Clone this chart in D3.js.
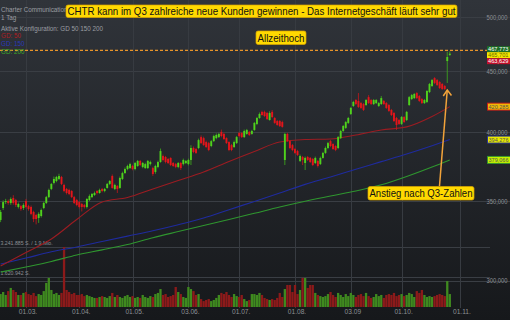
<!DOCTYPE html>
<html>
<head>
<meta charset="utf-8">
<script src="https://cdn.jsdelivr.net/npm/d3@7"></script>
<style>
    html, body { margin: 0; padding: 0; background: #1d2024; }
    svg { display: block; font-family: "Liberation Sans", Arial, sans-serif; }
</style>
</head>
<body>
<div id="chart"></div>
<script>
// CHTR daily candles, 14.02. - 28.10. (one entry per trading day)
var open = [
    337.4, 345.3, 349.3, 350.0, 348.7, 352.1, 350.7, 346.0, 346.6, 345.3,
    350.0, 346.6, 346.0, 342.7, 340.7, 338.7, 340.0, 345.3, 348.7, 352.7,
    358.3, 362.5, 363.9, 365.3, 366.7, 361.1, 358.3, 357.6, 356.9, 352.7,
    350.7, 349.3, 348.0, 347.3, 346.0, 350.7, 352.7, 354.1, 356.9, 355.5,
    358.3, 356.9, 359.0, 361.8, 367.4, 358.3, 360.4, 359.0, 365.3, 369.5,
    372.4, 373.1, 374.6, 372.4, 374.6, 378.3, 373.9, 373.1, 373.1, 376.0,
    373.1, 370.3, 373.9, 377.5, 381.9, 381.2, 379.7, 380.5, 376.8, 376.0,
    373.9, 376.8, 376.0, 376.8, 376.0, 379.0, 387.9, 387.1, 387.9, 396.2,
    395.4, 392.4, 391.6, 389.4, 393.1, 395.4, 396.2, 400.2, 398.6, 395.4,
    392.4, 390.1, 388.6, 391.6, 399.3, 399.3, 396.2, 398.6, 400.2, 398.6,
    401.7, 406.4, 411.1, 416.0, 416.0, 415.1, 409.5, 416.0, 411.1, 408.7,
    408.7, 407.9, 379.0, 398.6, 393.1, 390.1, 387.1, 385.6, 378.3, 381.2,
    376.8, 381.2, 380.5, 379.7, 376.8, 378.3, 376.0, 380.5, 384.2, 387.9,
    393.1, 390.9, 389.4, 387.9, 395.4, 400.9, 403.3, 407.2, 414.3, 420.8,
    425.7, 424.9, 423.2, 422.4, 421.6, 428.1, 425.7, 422.4, 423.2, 420.8,
    422.4, 424.9, 423.2, 421.6, 417.6, 415.1, 411.1, 409.5, 406.4, 411.9,
    409.5, 421.6, 426.5, 427.3, 431.5, 429.0, 426.5, 423.2, 424.1, 432.3,
    437.4, 444.2, 442.5, 440.8, 439.1, 437.4, 459.1, 464.5
];
var high = [
    344, 350.5, 351.5, 351, 352.5, 354, 351.5, 349, 347.5, 348.5,
    351.5, 347.5, 347, 343.5, 341.5, 342.5, 345, 349.5, 353.5, 358.5,
    362.5, 367, 367.5, 369, 367.5, 362, 359, 358.5, 357.5, 353.5,
    351.5, 350, 348.8, 348, 352, 354.5, 355.5, 356.5, 357.5, 358.5,
    359, 359, 362.5, 364.5, 368.5, 362, 361, 367, 370.5, 373.5,
    375.5, 377, 375.5, 377.5, 379, 379, 377.5, 377, 379, 378.5,
    374, 375.5, 378.5, 387.5, 383, 382, 380.5, 381, 377.5, 376.8,
    377.5, 377.5, 380, 379, 380, 390, 389, 388, 395, 397.5,
    396.5, 393.5, 392.5, 394, 398, 399, 399.5, 402, 399.5, 396,
    393, 391, 393.5, 397, 400.3, 400, 402, 402.5, 401, 401.8,
    408, 412, 415.5, 417, 417, 416, 416.5, 417.5, 412, 409.5,
    409.5, 409, 399.5, 399.5, 394, 391, 388, 386.5, 383, 382,
    381.5, 382, 381.2, 380.5, 381.5, 379, 381.5, 385, 389, 392.5,
    394, 391.5, 390, 397, 401.8, 405.6, 408.7, 412, 420, 425,
    426.5, 431.5, 424.1, 423.2, 426.5, 429.8, 426.5, 426.5, 426.5, 424.1,
    429, 425.7, 424.1, 422.4, 418.4, 416, 412, 410.3, 412.7, 412.7,
    416.8, 429, 430.7, 431.5, 432.3, 429.8, 427.3, 426.5, 434, 440,
    443.4, 445, 443.4, 441.6, 440, 438.3, 467.5, 467.773
];
var low = [
    336, 344, 348, 347.5, 347.5, 347.5, 346, 345, 343.5, 344,
    345, 343.5, 340.5, 336, 334.5, 335.5, 339, 344.5, 348, 352,
    357.5, 361.5, 363, 364.5, 361, 356, 354.5, 354, 352, 348,
    346.5, 345, 343, 345, 345, 350, 352, 353.5, 354.5, 355,
    356, 356, 358.5, 361, 358.5, 357.5, 355.5, 358.5, 364.5, 369,
    371.5, 372.5, 371.5, 371.5, 374, 374.5, 373, 372.5, 372.5, 375,
    367.5, 369, 373, 377, 378, 376.5, 376, 374.5, 374, 373,
    373, 371.7, 375, 376, 375, 375.3, 384, 383.5, 387, 391,
    389.5, 388, 385.5, 388.5, 392.5, 394.5, 395.5, 396, 394, 391,
    385.5, 385.5, 388, 391, 396, 395.5, 395.5, 398, 397, 398,
    401, 405.5, 410.5, 413, 412, 409.5, 409, 411, 406.5, 405,
    404, 403.5, 375.3, 392.5, 387, 385.5, 383.5, 382, 377.5, 375.3,
    371.7, 378.3, 376.8, 374.5, 376, 373.5, 375.3, 380, 383.5, 387,
    388.5, 386.5, 385.5, 387, 394.7, 400.2, 402.5, 406.4, 413.5, 420,
    421.6, 419.2, 418.4, 416.8, 420.8, 422.4, 421.6, 421.6, 422.4, 420,
    421.6, 421.6, 418.4, 416, 412.7, 407.9, 401.7, 405.6, 405.6, 407.2,
    408.7, 420.8, 425.7, 426.5, 426.5, 424.1, 422.4, 422.4, 423.2, 431.5,
    436.6, 439.1, 437.4, 434.9, 434, 434, 440, 463.629
];
var close = [
    342.7, 349.3, 350.0, 348.7, 351.4, 348.7, 347.3, 348.0, 344.6, 347.3,
    346.0, 344.6, 341.4, 338.0, 338.0, 341.4, 344.0, 348.7, 352.7, 357.6,
    361.8, 365.3, 366.7, 367.4, 361.8, 356.9, 355.5, 354.8, 352.7, 348.7,
    347.3, 346.0, 346.0, 346.0, 351.4, 353.4, 354.8, 355.5, 355.5, 357.6,
    356.9, 358.3, 361.8, 363.9, 359.0, 361.1, 358.3, 366.0, 369.5, 372.4,
    374.6, 376.0, 372.4, 376.8, 378.3, 375.3, 376.8, 376.0, 378.3, 377.5,
    368.8, 374.6, 377.5, 385.6, 379.0, 377.5, 376.8, 375.3, 374.6, 373.9,
    376.8, 373.1, 379.0, 378.3, 379.0, 387.9, 384.9, 384.2, 393.9, 391.6,
    390.1, 388.6, 386.4, 393.1, 397.0, 397.8, 398.6, 397.0, 394.7, 391.6,
    386.4, 386.4, 392.4, 396.2, 397.0, 396.2, 400.9, 401.7, 397.8, 400.9,
    407.2, 411.1, 414.3, 413.5, 412.7, 410.3, 415.1, 411.9, 407.2, 405.6,
    404.8, 404.1, 398.6, 393.1, 387.9, 386.4, 384.2, 382.7, 381.9, 379.0,
    380.5, 379.0, 377.5, 375.3, 380.5, 374.6, 380.5, 384.2, 387.9, 391.6,
    389.4, 387.1, 386.4, 396.2, 400.9, 404.8, 407.9, 411.1, 419.2, 424.1,
    422.4, 420.0, 419.2, 417.6, 425.7, 423.2, 422.4, 425.7, 425.7, 423.2,
    427.3, 422.4, 419.2, 416.8, 413.5, 408.7, 405.6, 406.4, 411.9, 407.9,
    416.0, 428.1, 429.8, 430.7, 427.3, 424.9, 423.2, 425.7, 433.2, 439.1,
    442.5, 440.0, 438.3, 435.7, 434.9, 434.9, 462.7, 465.701
];
// volume in thousand shares
var volume = [
    700, 810, 650, 860, 1030, 920, 810, 650, 650, 760,
    810, 700, 650, 760, 590, 700, 650, 860, 1300, 1570,
    920, 700, 760, 650, 760, 3240, 920, 810, 700, 760,
    650, 650, 700, 590, 650, 590, 540, 490, 490, 540,
    590, 540, 490, 590, 760, 540, 650, 540, 490, 590,
    650, 540, 590, 490, 540, 490, 650, 540, 490, 590,
    540, 700, 760, 970, 650, 700, 540, 590, 650, 1080,
    810, 700, 540, 490, 1080, 970, 860, 650, 700, 430,
    320, 380, 430, 320, 380, 490, 650, 760, 700, 810,
    650, 540, 700, 590, 540, 650, 430, 320, 380, 700,
    700, 650, 760, 650, 490, 430, 380, 430, 380, 490,
    760, 540, 970, 1190, 1190, 810, 1190, 700, 920, 1570,
    1570, 1030, 1190, 1190, 760, 650, 590, 540, 590, 700,
    810, 650, 540, 760, 650, 540, 700, 590, 760, 650,
    540, 650, 700, 590, 760, 590, 490, 540, 700, 590,
    650, 490, 650, 700, 650, 760, 590, 650, 700, 590,
    650, 760, 700, 540, 860, 760, 920, 650, 540, 590,
    540, 590, 650, 700, 650, 590, 1400, 700
];

// moving averages, read every 10 trading days
var maIdx = [0, 10, 20, 30, 40, 50, 60, 70, 80, 90, 100, 110, 120, 130, 140, 150, 160, 170, 177];
var ma50 = [308.6, 316.8, 325.2, 337.7, 349.4, 352.4, 358.3, 364.2, 370.3, 377.9, 385.3, 392.4, 394.3, 394.7, 397.8, 401.7, 404.1, 412.3, 420.285];
var ma150 = [309.8, 313.4, 317.2, 320.2, 323.6, 327.0, 330.4, 334.3, 338.7, 344.2, 349.7, 355.5, 361.5, 366.7, 372.3, 377.8, 383.4, 389.6, 394.276];
var ma200 = [305.0, 308.0, 311.3, 315.3, 318.4, 321.7, 326.0, 329.9, 333.8, 337.7, 341.8, 346.0, 349.9, 353.5, 356.9, 361.2, 367.1, 373.9, 379.066];

var xTickIdx = [10, 31, 52, 74, 94, 116, 138, 158, 181];
var xTickLabels = ["01.03.", "01.04.", "01.05.", "03.06.", "01.07.", "01.08.", "03.09", "01.10.", "01.11."];
var priceTicks = [300, 350, 400, 450, 500];
var volTicks = [1620.942, 3241.885];
var volLabels = ["1.620.942 S.", "3.241.885 S. / 1,9 Mio."];

var allTimeHigh = 467.773;
var lastQuote = [467.773, 465.701, 463.629];

var width = 510, height = 320;
var de = d3.formatLocale({decimal: ",", thousands: ".", grouping: [3], currency: ["", "€"]});
var fmt = de.format(".3f");

var svg = d3.select("#chart").append("svg")
    .attr("width", width)
    .attr("height", height);

var grad = svg.append("defs").append("linearGradient")
    .attr("id", "bg").attr("x1", 0).attr("y1", 0).attr("x2", 0).attr("y2", 1);
grad.append("stop").attr("offset", "0%").attr("stop-color", "#30343a");
grad.append("stop").attr("offset", "100%").attr("stop-color", "#16181b");
svg.append("rect").attr("width", width).attr("height", height).attr("fill", "url(#bg)");

var x = d3.scaleLinear().domain([0, 177]).range([0.6, 449.8]);
var y = d3.scaleLog().domain([300, 500]).range([280.6, 17]);
var yVol = d3.scaleLinear().domain([0, 3241.885]).range([307, 247]);

var idx = d3.range(close.length);
var up = function (i) { return close[i] >= open[i]; };

// grid
svg.append("g").selectAll("line").data(priceTicks).enter().append("line")
    .attr("x1", 0).attr("x2", width)
    .attr("y1", function (d) { return Math.round(y(d)) + 0.5; })
    .attr("y2", function (d) { return Math.round(y(d)) + 0.5; })
    .attr("stroke", "#3a3e44");
svg.append("g").selectAll("line").data(volTicks).enter().append("line")
    .attr("x1", 0).attr("x2", 490)
    .attr("y1", function (d) { return Math.round(yVol(d)) + 0.5; })
    .attr("y2", function (d) { return Math.round(yVol(d)) + 0.5; })
    .attr("stroke", "#3a3e44");
svg.append("g").selectAll("line").data(xTickIdx).enter().append("line")
    .attr("x1", function (d) { return Math.round(x(d)) + 0.5; })
    .attr("x2", function (d) { return Math.round(x(d)) + 0.5; })
    .attr("y1", 0).attr("y2", 308)
    .attr("stroke", "#373b41");

// volume
svg.append("g").selectAll("rect").data(idx).enter().append("rect")
    .attr("x", function (i) { return x(i) - 1.15; })
    .attr("width", 2.3)
    .attr("y", function (i) { return yVol(volume[i]); })
    .attr("height", function (i) { return yVol(0) - yVol(volume[i]); })
    .attr("fill", function (i) { return up(i) ? "#3f8a1f" : "#8c1a1a"; });

svg.append("g").attr("font-size", "5.2px").attr("fill", "#8d9095")
    .selectAll("text").data(volTicks).enter().append("text")
    .attr("x", 0.5)
    .attr("y", function (d) { return yVol(d) - 2; })
    .text(function (d, i) { return volLabels[i]; });

// moving averages
var maLine = function (vals) {
    return d3.line()
        .x(function (d, i) { return x(maIdx[i]); })
        .y(function (d) { return y(d); })
        .curve(d3.curveMonotoneX)(vals);
};
[[ma200, "#2f962f"], [ma150, "#1f2b9e"], [ma50, "#9b1c22"]].forEach(function (m) {
    svg.append("path").attr("d", maLine(m[0]))
        .attr("fill", "none").attr("stroke", m[1]).attr("stroke-width", 1.1);
});

// candles
var candles = svg.append("g").selectAll("g").data(idx).enter().append("g");
candles.append("line")
    .attr("x1", function (i) { return x(i); })
    .attr("x2", function (i) { return x(i); })
    .attr("y1", function (i) { return y(high[i]); })
    .attr("y2", function (i) { return y(low[i]); })
    .attr("stroke", function (i) { return up(i) ? "#3fae1c" : "#c4161b"; })
    .attr("stroke-width", 0.8);
candles.append("rect")
    .attr("x", function (i) { return x(i) - 0.95; })
    .attr("width", 1.9)
    .attr("y", function (i) { return y(Math.max(open[i], close[i])); })
    .attr("height", function (i) { return Math.max(1, Math.abs(y(open[i]) - y(close[i]))); })
    .attr("fill", function (i) { return up(i) ? "#4fd11d" : "#e3151b"; });

// all time high
svg.append("line")
    .attr("x1", 0).attr("x2", 487)
    .attr("y1", y(allTimeHigh) - 1).attr("y2", y(allTimeHigh) - 1)
    .attr("stroke", "#e8952a").attr("stroke-width", 1.2)
    .attr("stroke-dasharray", "3,2");

// axes
var yAxis = svg.append("g").attr("transform", "translate(486.5,0)")
    .call(d3.axisRight(y).tickValues(priceTicks).tickSize(0).tickPadding(0).tickFormat(fmt));
yAxis.select(".domain").remove();
yAxis.selectAll("text").attr("fill", "#8d9095").attr("font-size", "6.6px")
    .attr("font-family", "Liberation Sans, Arial, sans-serif")
    .attr("textLength", 21).attr("lengthAdjust", "spacingAndGlyphs");

var xAxis = svg.append("g").attr("transform", "translate(1.5,308)")
    .call(d3.axisBottom(x).tickValues(xTickIdx).tickSize(0).tickPadding(1.5)
        .tickFormat(function (d, i) { return xTickLabels[i]; }));
xAxis.select(".domain").remove();
xAxis.selectAll("text").attr("fill", "#8d9095").attr("font-size", "6.6px")
    .attr("font-family", "Liberation Sans, Arial, sans-serif");

// last quote boxes (high / last / low)
var quoteStyle = [["#1c6e25", "#ffffff"], ["#f4e800", "#6b6b00"], ["#c3102a", "#ffffff"]];
var quoteY = [y(lastQuote[1]) - 7.5, y(lastQuote[1]) - 1.5, y(lastQuote[1]) + 4.5];
lastQuote.forEach(function (v, i) {
    svg.append("rect").attr("x", 487).attr("y", quoteY[i]).attr("width", 24).attr("height", 6)
        .attr("fill", quoteStyle[i][0]);
    svg.append("text").attr("x", 488).attr("y", quoteY[i] + 5.2)
        .attr("font-size", "6.2px").attr("fill", quoteStyle[i][1])
        .attr("textLength", 20.5).attr("lengthAdjust", "spacingAndGlyphs").text(fmt(v));
});

// current moving average values
var maLast = [[ma50, "#f2b705", "#c8151b"], [ma150, "#eaea00", "#22309c"], [ma200, "#c6f000", "#2f962f"]];
maLast.forEach(function (m) {
    var v = m[0][m[0].length - 1];
    svg.append("rect").attr("x", 487.5).attr("y", y(v) - 3.5).attr("width", 24).attr("height", 7)
        .attr("fill", m[1]).attr("stroke", m[2]).attr("stroke-width", 0.9);
    svg.append("text").attr("x", 488.5).attr("y", y(v) + 2.3)
        .attr("font-size", "6.2px").attr("fill", "#555")
        .attr("textLength", 20).attr("lengthAdjust", "spacingAndGlyphs").text(fmt(v));
});

// header info
var info = svg.append("g").attr("font-size", "6.3px").attr("fill", "#9a9da2");
info.append("text").attr("x", 1).attr("y", 11.5).text("Charter Communications");
info.append("text").attr("x", 1).attr("y", 19.5).text("1 Tag");
info.append("text").attr("x", 1).attr("y", 30.5).attr("textLength", 102).text("Aktive Konfiguration: GD 50 150 200");
info.append("text").attr("x", 1).attr("y", 38).attr("fill", "#b01c22").text("GD: 50");
info.append("text").attr("x", 1).attr("y", 45.5).attr("fill", "#2a38b8").text("GD: 150");
info.append("text").attr("x", 1).attr("y", 53.5).attr("fill", "#3aa82a").text("GD: 200");

// yellow annotations
var note = function (x0, y0, w, h, txt) {
    svg.append("rect").attr("x", x0).attr("y", y0).attr("width", w).attr("height", h)
        .attr("rx", 2).attr("fill", "#ffd900").attr("stroke", "#d9a400").attr("stroke-width", 0.7);
    svg.append("text").attr("x", x0 + 1.5).attr("y", y0 + h - 2.6)
        .attr("font-size", "10.6px").attr("fill", "#111")
        .attr("textLength", w - 3).attr("lengthAdjust", "spacingAndGlyphs").text(txt);
};
note(66, 5, 391, 12.5, "CHTR kann im Q3 zahlreiche neue Kunden gewinnen - Das Internetgeschäft läuft sehr gut");
note(256, 31, 50, 13.5, "Allzeithoch");
note(368, 186.5, 106, 13.5, "Anstieg nach Q3-Zahlen");

// arrow to the earnings candle
var tipX = x(176), tipY = y(close[175]) + 1;
svg.append("line").attr("x1", 439.5).attr("y1", 186).attr("x2", tipX).attr("y2", tipY)
    .attr("stroke", "#f2a33a").attr("stroke-width", 1.5);
svg.append("path")
    .attr("d", "M" + (tipX - 4) + "," + (tipY + 6) + "L" + tipX + "," + tipY + "L" + (tipX + 4.2) + "," + (tipY + 5.5))
    .attr("fill", "none").attr("stroke", "#f2a33a").attr("stroke-width", 1.5);
</script>
</body>
</html>
